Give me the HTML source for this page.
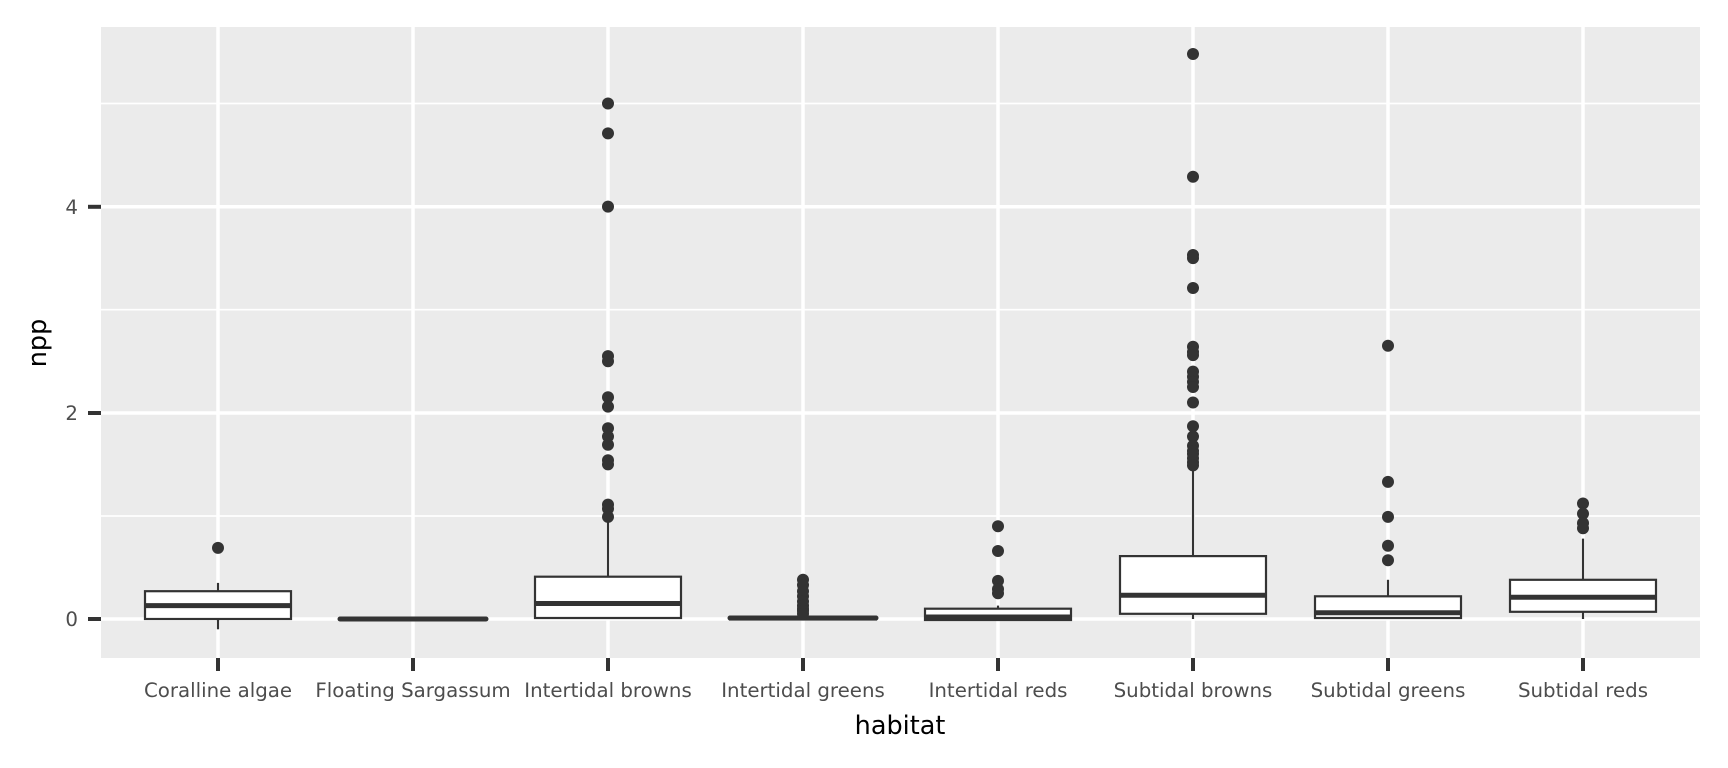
<!DOCTYPE html>
<html><head><meta charset="utf-8"><style>html,body{margin:0;padding:0;background:#fff}svg{display:block}</style></head>
<body>
<svg width="1728" height="768" xmlns="http://www.w3.org/2000/svg" font-family="'DejaVu Sans', 'Liberation Sans', sans-serif">
<rect x="101" y="27" width="1599" height="631" fill="#EBEBEB"/>
<g stroke="#fff" stroke-width="1.7">
<line x1="101" x2="1700" y1="516" y2="516"/><line x1="101" x2="1700" y1="309.7" y2="309.7"/><line x1="101" x2="1700" y1="103.5" y2="103.5"/>
</g>
<g stroke="#fff" stroke-width="3.5">
<line x1="101" x2="1700" y1="619" y2="619"/><line x1="101" x2="1700" y1="413" y2="413"/><line x1="101" x2="1700" y1="206.8" y2="206.8"/>
<line x1="218" x2="218" y1="27" y2="658"/><line x1="413" x2="413" y1="27" y2="658"/><line x1="608" x2="608" y1="27" y2="658"/><line x1="803" x2="803" y1="27" y2="658"/><line x1="998" x2="998" y1="27" y2="658"/><line x1="1193" x2="1193" y1="27" y2="658"/><line x1="1388" x2="1388" y1="27" y2="658"/><line x1="1583" x2="1583" y1="27" y2="658"/>
</g>
<g stroke="#333" stroke-width="2.2" fill="#fff">
<line x1="218" x2="218" y1="582.9" y2="629.3"/><rect x="145" y="591.2" width="146" height="27.8"/><line x1="145" x2="291" y1="605.6" y2="605.6" stroke-width="5"/>
<line x1="340" x2="486" y1="619" y2="619" stroke-width="5" stroke-linecap="round"/>
<line x1="608" x2="608" y1="519" y2="618"/><rect x="535" y="576.7" width="146" height="41.3"/><line x1="535" x2="681" y1="603.5" y2="603.5" stroke-width="5"/>
<line x1="803" x2="803" y1="615.9" y2="619"/><rect x="730" y="617" width="146" height="2.5"/><line x1="730" x2="876" y1="618" y2="618" stroke-width="5" stroke-linecap="round"/>
<line x1="998" x2="998" y1="605.6" y2="620"/><rect x="925" y="608.7" width="146" height="11.3"/><line x1="925" x2="1071" y1="617" y2="617" stroke-width="5"/>
<line x1="1193" x2="1193" y1="469.5" y2="619"/><rect x="1120" y="556.1" width="146" height="57.7"/><line x1="1120" x2="1266" y1="595.3" y2="595.3" stroke-width="5"/>
<line x1="1388" x2="1388" y1="579.8" y2="619"/><rect x="1315" y="596.3" width="146" height="21.7"/><line x1="1315" x2="1461" y1="612.8" y2="612.8" stroke-width="5"/>
<line x1="1583" x2="1583" y1="538.6" y2="619"/><rect x="1510" y="579.8" width="146" height="32"/><line x1="1510" x2="1656" y1="597.3" y2="597.3" stroke-width="5"/>
</g>
<g fill="#333">
<circle cx="218" cy="547.9" r="6"/>
<circle cx="608" cy="103.5" r="6"/><circle cx="608" cy="133.4" r="6"/><circle cx="608" cy="206.6" r="6"/><circle cx="608" cy="356.1" r="6"/><circle cx="608" cy="361.3" r="6"/><circle cx="608" cy="397.3" r="6"/><circle cx="608" cy="406.6" r="6"/><circle cx="608" cy="428.3" r="6"/><circle cx="608" cy="436.5" r="6"/><circle cx="608" cy="444.8" r="6"/><circle cx="608" cy="460.2" r="6"/><circle cx="608" cy="464.4" r="6"/><circle cx="608" cy="504.6" r="6"/><circle cx="608" cy="508.7" r="6"/><circle cx="608" cy="516.9" r="6"/>
<circle cx="803" cy="579.8" r="6"/><circle cx="803" cy="585" r="6"/><circle cx="803" cy="591.2" r="6"/><circle cx="803" cy="596.3" r="6"/><circle cx="803" cy="601.5" r="6"/><circle cx="803" cy="605.6" r="6"/><circle cx="803" cy="608.7" r="6"/><circle cx="803" cy="610.8" r="6"/><circle cx="803" cy="613.8" r="6"/>
<circle cx="998" cy="526.2" r="6"/><circle cx="998" cy="551" r="6"/><circle cx="998" cy="580.9" r="6"/><circle cx="998" cy="589.1" r="6"/><circle cx="998" cy="593.2" r="6"/>
<circle cx="1193" cy="54" r="6"/><circle cx="1193" cy="176.7" r="6"/><circle cx="1193" cy="255" r="6"/><circle cx="1193" cy="258.1" r="6"/><circle cx="1193" cy="288" r="6"/><circle cx="1193" cy="346.8" r="6"/><circle cx="1193" cy="352" r="6"/><circle cx="1193" cy="355.1" r="6"/><circle cx="1193" cy="371.6" r="6"/><circle cx="1193" cy="376.7" r="6"/><circle cx="1193" cy="381.9" r="6"/><circle cx="1193" cy="387" r="6"/><circle cx="1193" cy="402.5" r="6"/><circle cx="1193" cy="426.2" r="6"/><circle cx="1193" cy="436.5" r="6"/><circle cx="1193" cy="445.8" r="6"/><circle cx="1193" cy="451" r="6"/><circle cx="1193" cy="454" r="6"/><circle cx="1193" cy="458.2" r="6"/><circle cx="1193" cy="462.3" r="6"/><circle cx="1193" cy="465.4" r="6"/>
<circle cx="1388" cy="345.8" r="6"/><circle cx="1388" cy="481.9" r="6"/><circle cx="1388" cy="516.9" r="6"/><circle cx="1388" cy="545.8" r="6"/><circle cx="1388" cy="560.2" r="6"/>
<circle cx="1583" cy="503.5" r="6"/><circle cx="1583" cy="513.8" r="6"/><circle cx="1583" cy="523.1" r="6"/><circle cx="1583" cy="528.3" r="6"/>
</g>
<g stroke="#333" stroke-width="4">
<line x1="88" x2="101" y1="619" y2="619"/><line x1="88" x2="101" y1="413" y2="413"/><line x1="88" x2="101" y1="206.8" y2="206.8"/>
<line x1="218" x2="218" y1="658" y2="671"/><line x1="413" x2="413" y1="658" y2="671"/><line x1="608" x2="608" y1="658" y2="671"/><line x1="803" x2="803" y1="658" y2="671"/><line x1="998" x2="998" y1="658" y2="671"/><line x1="1193" x2="1193" y1="658" y2="671"/><line x1="1388" x2="1388" y1="658" y2="671"/><line x1="1583" x2="1583" y1="658" y2="671"/>
</g>
<g fill="#4D4D4D" font-size="19.8" text-anchor="end">
<text x="78" y="626">0</text><text x="78" y="420">2</text><text x="78" y="213.8">4</text>
</g>
<g fill="#4D4D4D" font-size="19.8" text-anchor="middle">
<text x="218" y="697">Coralline algae</text><text x="413" y="697">Floating Sargassum</text><text x="608" y="697">Intertidal browns</text><text x="803" y="697">Intertidal greens</text><text x="998" y="697">Intertidal reds</text><text x="1193" y="697">Subtidal browns</text><text x="1388" y="697">Subtidal greens</text><text x="1583" y="697">Subtidal reds</text>
</g>
<text x="900" y="734" font-size="25.5" text-anchor="middle" fill="#000">habitat</text>
<text transform="translate(46,343) rotate(-90)" font-size="25.5" text-anchor="middle" fill="#000">npp</text>
</svg>
</body></html>
